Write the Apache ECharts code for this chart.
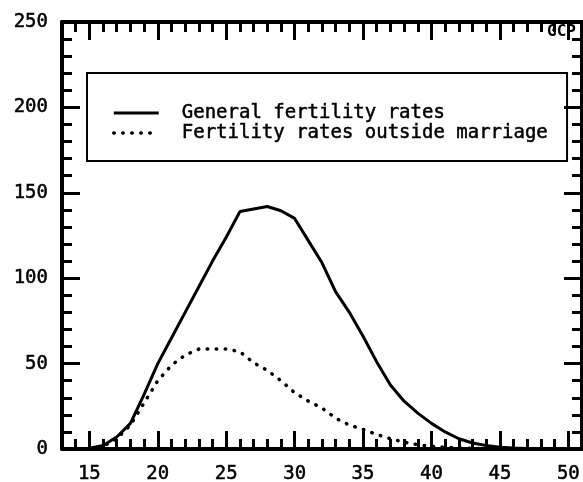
<!DOCTYPE html>
<html>
<head>
<meta charset="utf-8">
<script src="https://cdn.jsdelivr.net/npm/echarts@6/dist/echarts.min.js"></script>
<style>
  html, body { margin: 0; padding: 0; background: #fff; }
  #chart { width: 583px; height: 482px; }
</style>
</head>
<body>
<div id="chart"></div>
<script>
// Age of mother (years)
const ages = [15, 16, 17, 18, 19, 20, 21, 22, 23, 24, 25, 26, 27, 28, 29, 30, 31, 32,
              33, 34, 35, 36, 37, 38, 39, 40, 41, 42, 43, 44, 45, 46, 47, 48, 49, 50];

// Births per 1000 women, all women
const generalRates = [0.5, 2, 7, 15, 32, 50, 65, 80, 95, 110, 124, 139, 140.5, 142, 139.5, 135, 122, 109,
                      92, 80, 66, 51, 37.5, 28, 21, 15, 10, 6, 3.5, 2, 1, 0.6, 0.3, 0.2, 0.1, 0];

// Births per 1000 unmarried women
const outsideRates = [0.3, 1.5, 6, 14, 27, 40, 49, 55, 58.5, 58.5, 58.5, 57, 50.5, 46, 40, 33, 28, 24,
                      18, 14, 11.5, 8.5, 6, 4, 2.5, 1.5, 1, 0.6, 0.4, 0.2, 0.1, 0, 0, 0, 0, 0];

const seriesNames = ['General fertility rates', 'Fertility rates outside marriage'];

// Labelled ticks
const xTickLabels = [15, 20, 25, 30, 35, 40, 45, 50];
const yTickLabels = [0, 50, 100, 150, 200, 250];

const FONT = 'DejaVu Sans Mono';
const INK = '#000';

// Slightly heavier glyphs, like a plotter pen
const textInk = { color: INK, fontFamily: FONT, textBorderColor: INK, textBorderWidth: 0.5 };

const chart = echarts.init(document.getElementById('chart'), null, { renderer: 'canvas' });

const gridBox = { left: 62, top: 22, right: 1, bottom: 33, containLabel: false, outerBoundsMode: 'none' };

// Major x ticks (long) with labels
function majorX(position, showLabels) {
  return {
    gridIndex: 0, type: 'value', position: position, min: 13, max: 51,
    axisLine: { show: true, onZero: false, lineStyle: { color: INK, width: 4 } },
    axisTick: { show: true, inside: true, length: 18, customValues: xTickLabels,
                lineStyle: { color: INK, width: 3 } },
    axisLabel: Object.assign({ show: showLabels, customValues: xTickLabels,
                               fontSize: 19, margin: 16 }, textInk),
    splitLine: { show: false }
  };
}
// Minor x ticks at every year
function minorX(position) {
  return {
    gridIndex: 1, type: 'value', position: position, min: 13, max: 51, interval: 1,
    axisLine: { show: false },
    axisTick: { show: true, inside: true, length: 10, lineStyle: { color: INK, width: 3 } },
    axisLabel: { show: false },
    splitLine: { show: false }
  };
}
function yAxisDef(position, showLabels) {
  return {
    gridIndex: 0, type: 'value', position: position, min: 0, max: 250, interval: 50,
    axisLine: { show: true, onZero: false, lineStyle: { color: INK, width: 4 } },
    axisTick: { show: true, inside: true, length: 18, lineStyle: { color: INK, width: 3 } },
    minorTick: { show: true, splitNumber: 5, length: 10, lineStyle: { color: INK, width: 3 } },
    axisLabel: Object.assign({ show: showLabels, fontSize: 19, margin: 14,
                               customValues: yTickLabels }, textInk),
    splitLine: { show: false }
  };
}

const solidStyle = { color: INK, width: 3, type: 'solid' };
const dottedStyle = { color: INK, width: 3.5, type: [0.5, 8.5], cap: 'round' };

const option = {
  backgroundColor: '#fff',
  animation: false,
  grid: [Object.assign({}, gridBox), Object.assign({}, gridBox)],
  xAxis: [majorX('bottom', true), majorX('top', false), minorX('bottom'), minorX('top')],
  yAxis: [
    yAxisDef('left', true),
    yAxisDef('right', false),
    { gridIndex: 1, type: 'value', min: 0, max: 250, show: false }
  ],
  legend: {
    orient: 'vertical',
    left: 87, top: 73,
    selectedMode: false,
    icon: 'inherit',
    itemStyle: { opacity: 0 },
    lineStyle: { width: 'inherit', type: 'inherit', cap: 'inherit' },
    borderColor: INK, borderWidth: 2, borderRadius: 0,
    padding: [30, 19, 18, 25],
    itemWidth: 45, itemHeight: 14, itemGap: 0,
    textStyle: Object.assign({ fontSize: 19, lineHeight: 20, padding: [0, 0, 0, 18] }, textInk),
    data: seriesNames
  },
  graphic: [{
    type: 'text', x: 547, y: 24, z: 100,
    style: { text: 'GCP', font: 'bold 16px "DejaVu Sans Mono"', fill: INK }
  }],
  series: [
    {
      name: seriesNames[0], type: 'line', xAxisIndex: 0, yAxisIndex: 0,
      symbol: 'none', smooth: false,
      lineStyle: solidStyle,
      itemStyle: { color: INK },
      data: ages.map((a, i) => [a, generalRates[i]])
    },
    {
      name: seriesNames[1], type: 'line', xAxisIndex: 0, yAxisIndex: 0,
      symbol: 'none', smooth: false,
      lineStyle: dottedStyle,
      itemStyle: { color: INK },
      data: ages.map((a, i) => [a, outsideRates[i]])
    }
  ]
};

chart.setOption(option);
</script>
</body>
</html>
